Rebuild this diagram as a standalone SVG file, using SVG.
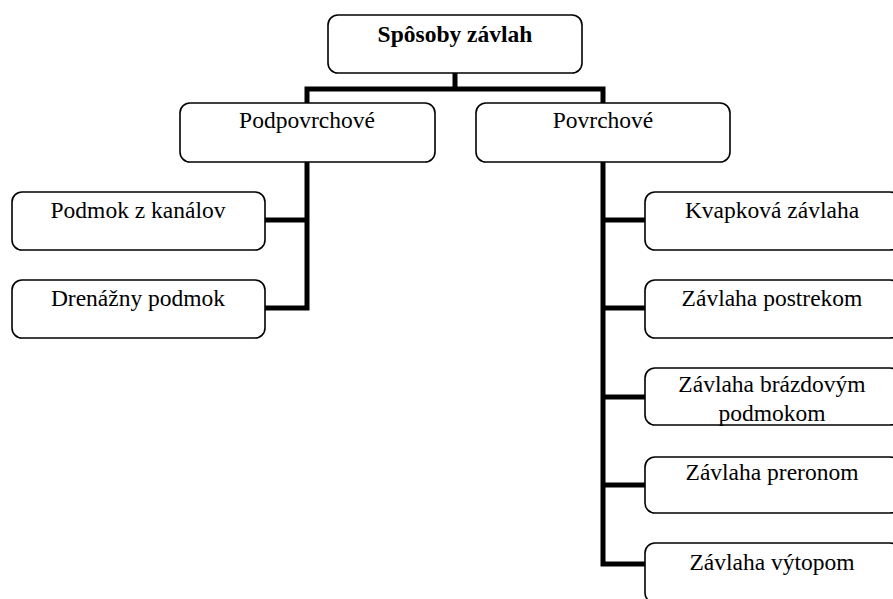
<svg xmlns="http://www.w3.org/2000/svg" width="893" height="599" viewBox="0 0 893 599">
<style>
.box{fill:#fff;stroke:#000;stroke-width:1.6}
.t{font-family:"Liberation Serif","Times New Roman",serif;font-size:23.5px;fill:#000;text-anchor:middle}
.b{font-weight:bold}
.c{stroke:#000;stroke-width:5;fill:none;stroke-linecap:square;stroke-linejoin:miter}
</style>
<rect width="893" height="599" fill="#fff"/>
<g id="connectors">
<path class="c" d="M455 73V89M307 89H603M307 89V103M603 89V103"/>
<path class="c" d="M307 163V308M266 220H307M266 308H307"/>
<path class="c" d="M603 163V564M603 220H644M603 308H644M603 397H644M603 485H644M603 564H644"/>
</g>
<g id="n-root"><rect class="box" x="328" y="15" width="254" height="58" rx="10"/><text class="t b" x="455" y="42">Spôsoby závlah</text></g>
<g id="n-podpovrchove"><rect class="box" x="180" y="103" width="255" height="59" rx="10"/><text class="t" x="307" y="128">Podpovrchové</text></g>
<g id="n-povrchove"><rect class="box" x="476" y="103" width="254" height="59" rx="10"/><text class="t" x="603" y="128">Povrchové</text></g>
<g id="n-podmok-kanalov"><rect class="box" x="12" y="192" width="253" height="58" rx="10"/><text class="t" x="138" y="218">Podmok z kanálov</text></g>
<g id="n-drenazny"><rect class="box" x="12" y="280" width="253" height="58" rx="10"/><text class="t" x="138" y="306">Drenážny podmok</text></g>
<g id="n-kvapkova"><rect class="box" x="645" y="192" width="255" height="58" rx="10"/><text class="t" x="772" y="218">Kvapková závlaha</text></g>
<g id="n-postrekom"><rect class="box" x="645" y="280" width="255" height="58" rx="10"/><text class="t" x="772" y="306">Závlaha postrekom</text></g>
<g id="n-brazdovym"><rect class="box" x="645" y="368" width="255" height="57" rx="10"/><text class="t" x="772" y="392">Závlaha brázdovým</text><text class="t" x="772" y="421">podmokom</text></g>
<g id="n-preronom"><rect class="box" x="645" y="457" width="255" height="56" rx="10"/><text class="t" x="772" y="480">Závlaha preronom</text></g>
<g id="n-vytopom"><rect class="box" x="645" y="543" width="255" height="60" rx="10"/><text class="t" x="772" y="570">Závlaha výtopom</text></g>
</svg>
